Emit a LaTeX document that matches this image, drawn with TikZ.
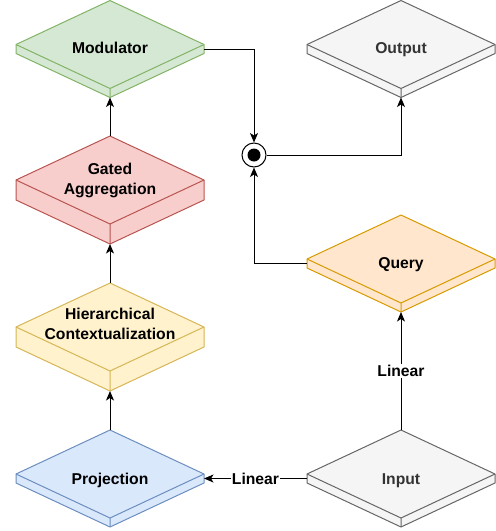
\documentclass[tikz,border=0pt]{standalone}
\usepackage{fontspec}
\setmainfont{Liberation Sans}
\usetikzlibrary{arrows.meta,calc}
\definecolor{gfill}{HTML}{D5E8D4}\definecolor{gline}{HTML}{82B366}
\definecolor{rfill}{HTML}{F8CECC}\definecolor{rline}{HTML}{B85450}
\definecolor{yfill}{HTML}{FFF2CC}\definecolor{yline}{HTML}{D6B656}
\definecolor{bfill}{HTML}{DAE8FC}\definecolor{bline}{HTML}{6C8EBF}
\definecolor{kfill}{HTML}{F5F5F5}\definecolor{kline}{HTML}{666666}
\definecolor{ofill}{HTML}{FFE6CC}\definecolor{oline}{HTML}{D79B00}
\definecolor{ktext}{HTML}{333333}
\newcommand{\slab}[6]{%
 \coordinate (#1-t) at (#2,{#3-44});
 \coordinate (#1-l) at ({#2-94},#3);
 \coordinate (#1-r) at ({#2+94},#3);
 \coordinate (#1-lm) at ({#2-94},{#3+#4/2});
 \coordinate (#1-rm) at ({#2+94},{#3+#4/2});
 \coordinate (#1-b) at (#2,{#3+44});
 \coordinate (#1-lb) at ({#2-94},{#3+#4});
 \coordinate (#1-rb) at ({#2+94},{#3+#4});
 \coordinate (#1-bb) at (#2,{#3+44+#4});
 \filldraw[fill=#5,draw=#6,line width=1pt,line join=round] (#1-l) -- (#1-t) -- (#1-r) -- (#1-rb) -- (#1-bb) -- (#1-lb) -- cycle;
 \draw[#6,line width=1pt,line join=round] (#1-l) -- (#1-b) -- (#1-r) (#1-b) -- (#1-bb);
}
\tikzset{
 txt/.style={font=\fontsize{15.7}{19.5}\selectfont\bfseries,align=center,inner sep=0pt,anchor=base},
 arr/.style={line width=1pt,-{Stealth[length=9.5pt,width=8pt,inset=2.5pt]}},
 lab/.style={font=\fontsize{15.7}{19}\selectfont\bfseries,fill=white,inner sep=1pt},
}
\begin{document}
\begin{tikzpicture}[x=1pt,y=-1pt]
\useasboundingbox (0,0) rectangle (496,531);
\slab{m}{110}{44.5}{9}{gfill}{gline}
\slab{o}{401}{44.5}{9}{kfill}{kline}
\slab{g}{110}{180}{20}{rfill}{rline}
\slab{h}{110}{327}{20}{yfill}{yline}
\slab{q}{401}{259}{9}{ofill}{oline}
\slab{p}{110}{474}{9}{bfill}{bline}
\slab{i}{401}{474}{9}{kfill}{kline}
\node[txt] (mt) at (110,53.5) {Modulator};
\node[txt,text=ktext] (ot) at (401,53.5) {Output};
\node[txt] (gt) at (110,194) {Gated\\Aggregation};
\node[txt] (ht) at (110,339) {Hierarchical\\Contextualization};
\node[txt] (qt) at (401,268) {Query};
\node[txt] (pt) at (110,484) {Projection};
\node[txt,text=ktext] (it) at (401,484) {Input};
\node[circle,draw,fill=white,minimum size=24pt,inner sep=0pt,line width=1pt] (dot) at (254,155) {};
\fill (dot.center) circle[radius=6.5pt];
\draw[arr] (i-t) -- node[lab] (l1) {Linear} (q-bb);
\draw[arr] (i-lm) -- node[lab] (l2) {Linear} (p-rm);
\draw[arr] (p-t) -- (h-bb);
\draw[arr] (h-t) -- (g-bb);
\draw[arr] (g-t) -- (m-bb);
\draw[arr] (m-rm) -| (dot.north);
\draw[arr] (q-lm) -| (dot.south);
\draw[arr] (dot.east) -| (o-bb);
\end{tikzpicture}
\end{document}
